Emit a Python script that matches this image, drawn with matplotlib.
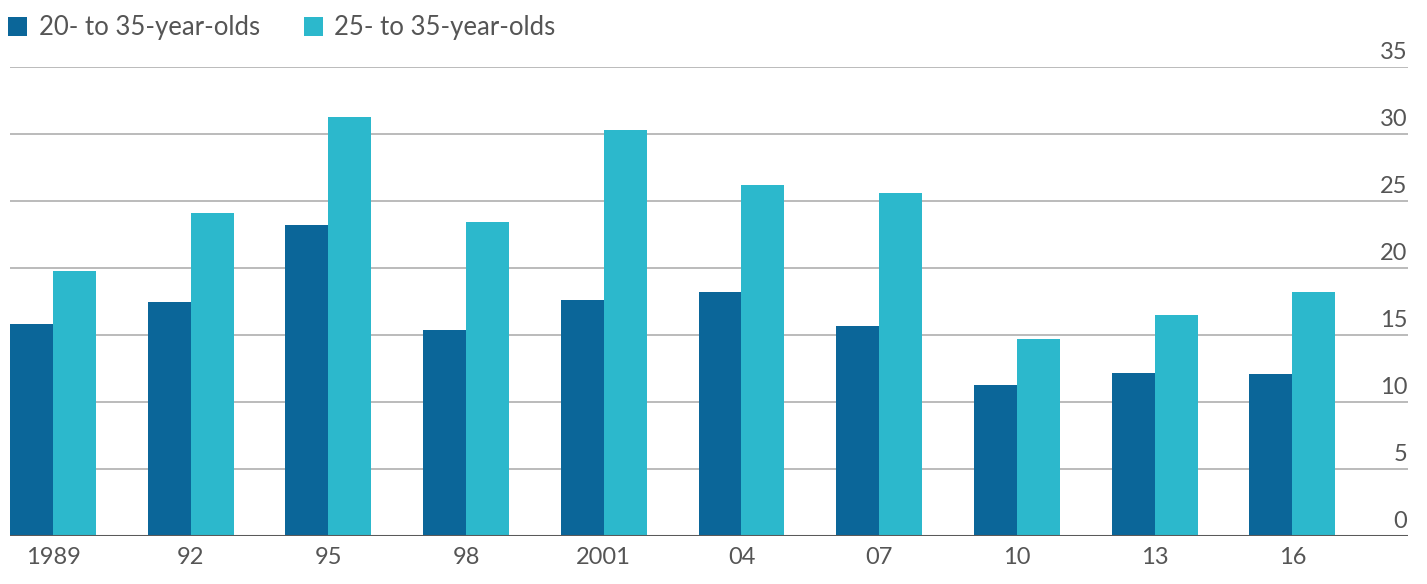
import matplotlib
matplotlib.use("Agg")
import matplotlib.pyplot as plt
import matplotlib.transforms as mtransforms
from matplotlib.patches import Patch
import numpy as np

years = ["1989", "92", "95", "98", "2001", "04", "07", "10", "13", "16"]
ages_20_35 = [15.8, 17.5, 23.2, 15.4, 17.6, 18.2, 15.7, 11.3, 12.2, 12.1]
ages_25_35 = [19.8, 24.1, 31.3, 23.4, 30.3, 26.2, 25.6, 14.7, 16.5, 18.2]
series_labels = ["20- to 35-year-olds", "25- to 35-year-olds"]
y_ticks = [0, 5, 10, 15, 20, 25, 30, 35]

dark = "#0b6699"
light = "#2cb8cc"
text_color = "#555555"

plt.rcParams["font.family"] = ["Lato", "DejaVu Sans"]

fig = plt.figure(figsize=(14.27, 5.84), dpi=100)
ax = fig.add_axes([10 / 1427, 48 / 584, 1398 / 1427, 469 / 584])

x = np.arange(len(years))
w = 0.312
ax.bar(x - w / 2, ages_20_35, width=w, color=dark, zorder=3)
ax.bar(x + w / 2, ages_25_35, width=w, color=light, zorder=3)

ax.set_xlim(-w, 9.84)
ax.set_ylim(0, 35)

for v in y_ticks[1:]:
    ax.axhline(v, color="#b5b5b5", lw=1.3, zorder=1)
ax.axhline(0, color="#5a5a5a", lw=2.2, zorder=4)

for s in ax.spines.values():
    s.set_visible(False)

ax.set_yticks([])
ax.set_xticks(x)
ax.set_xticklabels(years, fontsize=17, color=text_color)
ax.tick_params(axis="x", length=0, pad=8)

trans = mtransforms.blended_transform_factory(ax.transAxes, ax.transData)
for v in y_ticks:
    ax.text(0.9995, v + 0.3, str(v), transform=trans, ha="right", va="bottom",
            fontsize=17, color=text_color)

handles = [Patch(facecolor=dark), Patch(facecolor=light)]
fig.legend(handles, series_labels, loc="upper left", bbox_to_anchor=(-0.007, 1.005),
           ncol=2, frameon=False, fontsize=18.5, labelcolor=text_color,
           handlelength=0.75, handleheight=0.75, handletextpad=0.45,
           columnspacing=1.7, borderaxespad=0.3)

fig.savefig("out.png", dpi=100, facecolor="white")
